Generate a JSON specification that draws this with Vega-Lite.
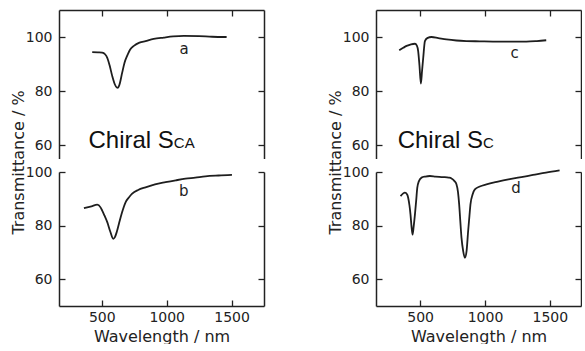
{
  "$schema": "https://vega.github.io/schema/vega-lite/v6.json",
  "padding": {"left": 10, "top": 9, "right": 0, "bottom": 0},
  "autosize": {"type": "pad"},
  "background": "white",
  "config": {
    "view": {"stroke": null},
    "axis": {
      "grid": false,
      "domainColor": "#222",
      "tickColor": "#222",
      "labelColor": "#222",
      "titleColor": "#222",
      "domainWidth": 1.5,
      "tickWidth": 1.3,
      "tickSize": -6,
      "labelFont": "DejaVu Sans",
      "labelFontSize": 14,
      "titleFont": "DejaVu Sans",
      "titleFontSize": 16,
      "titleFontWeight": "normal",
      "format": "d"
    }
  },
  "datasets": {
    "curves": [
      {"panel":"a","wl":426,"t":94.4},{"panel":"a","wl":470,"t":94.3},{"panel":"a","wl":503,"t":94.2},{"panel":"a","wl":525,"t":93.6},{"panel":"a","wl":542,"t":92.3},{"panel":"a","wl":560,"t":89.5},{"panel":"a","wl":580,"t":85.6},{"panel":"a","wl":600,"t":82.5},{"panel":"a","wl":615,"t":81.3},{"panel":"a","wl":624,"t":81.2},{"panel":"a","wl":635,"t":82.2},{"panel":"a","wl":657,"t":86.8},{"panel":"a","wl":675,"t":90.5},{"panel":"a","wl":695,"t":93.0},{"panel":"a","wl":720,"t":95.5},{"panel":"a","wl":747,"t":96.7},{"panel":"a","wl":790,"t":97.9},{"panel":"a","wl":837,"t":98.5},{"panel":"a","wl":900,"t":99.3},{"panel":"a","wl":978,"t":99.8},{"panel":"a","wl":1050,"t":100.2},{"panel":"a","wl":1132,"t":100.4},{"panel":"a","wl":1250,"t":100.3},{"panel":"a","wl":1350,"t":100.1},{"panel":"a","wl":1462,"t":100.0},
      {"panel":"b","wl":362,"t":86.5},{"panel":"b","wl":420,"t":87.2},{"panel":"b","wl":465,"t":87.8},{"panel":"b","wl":490,"t":86.8},{"panel":"b","wl":503,"t":85.6},{"panel":"b","wl":520,"t":83.8},{"panel":"b","wl":542,"t":81.3},{"panel":"b","wl":565,"t":77.8},{"panel":"b","wl":588,"t":75.1},{"panel":"b","wl":600,"t":75.6},{"panel":"b","wl":615,"t":77.6},{"panel":"b","wl":632,"t":80.7},{"panel":"b","wl":655,"t":84.8},{"panel":"b","wl":683,"t":88.7},{"panel":"b","wl":710,"t":90.6},{"panel":"b","wl":734,"t":91.9},{"panel":"b","wl":780,"t":93.3},{"panel":"b","wl":837,"t":94.3},{"panel":"b","wl":910,"t":95.4},{"panel":"b","wl":991,"t":96.2},{"panel":"b","wl":1070,"t":96.9},{"panel":"b","wl":1145,"t":97.5},{"panel":"b","wl":1220,"t":97.9},{"panel":"b","wl":1298,"t":98.4},{"panel":"b","wl":1400,"t":98.7},{"panel":"b","wl":1503,"t":98.9},
      {"panel":"c","wl":339,"t":95.1},{"panel":"c","wl":370,"t":96.0},{"panel":"c","wl":396,"t":96.7},{"panel":"c","wl":430,"t":97.3},{"panel":"c","wl":460,"t":97.5},{"panel":"c","wl":475,"t":96.8},{"panel":"c","wl":485,"t":94.8},{"panel":"c","wl":495,"t":89.5},{"panel":"c","wl":506,"t":82.7},{"panel":"c","wl":515,"t":87.5},{"panel":"c","wl":524,"t":92.3},{"panel":"c","wl":537,"t":98.5},{"panel":"c","wl":555,"t":99.6},{"panel":"c","wl":588,"t":100.0},{"panel":"c","wl":640,"t":99.6},{"panel":"c","wl":703,"t":99.1},{"panel":"c","wl":780,"t":98.7},{"panel":"c","wl":857,"t":98.5},{"panel":"c","wl":960,"t":98.4},{"panel":"c","wl":1062,"t":98.3},{"panel":"c","wl":1200,"t":98.3},{"panel":"c","wl":1319,"t":98.3},{"panel":"c","wl":1400,"t":98.5},{"panel":"c","wl":1472,"t":98.8},
      {"panel":"d","wl":349,"t":91.0},{"panel":"d","wl":383,"t":92.3},{"panel":"d","wl":400,"t":91.6},{"panel":"d","wl":408,"t":90.4},{"panel":"d","wl":418,"t":87.5},{"panel":"d","wl":426,"t":84.1},{"panel":"d","wl":434,"t":79.5},{"panel":"d","wl":442,"t":76.6},{"panel":"d","wl":450,"t":79.5},{"panel":"d","wl":460,"t":84.1},{"panel":"d","wl":470,"t":89.5},{"panel":"d","wl":478,"t":94.1},{"panel":"d","wl":490,"t":96.5},{"panel":"d","wl":511,"t":97.9},{"panel":"d","wl":540,"t":98.3},{"panel":"d","wl":575,"t":98.5},{"panel":"d","wl":620,"t":98.3},{"panel":"d","wl":678,"t":98.1},{"panel":"d","wl":720,"t":97.9},{"panel":"d","wl":742,"t":97.6},{"panel":"d","wl":765,"t":96.6},{"panel":"d","wl":780,"t":95.4},{"panel":"d","wl":792,"t":92.5},{"panel":"d","wl":801,"t":87.9},{"panel":"d","wl":810,"t":81.5},{"panel":"d","wl":819,"t":75.4},{"panel":"d","wl":832,"t":70.5},{"panel":"d","wl":845,"t":68.0},{"panel":"d","wl":858,"t":70.5},{"panel":"d","wl":870,"t":77.9},{"panel":"d","wl":880,"t":83.5},{"panel":"d","wl":888,"t":87.9},{"panel":"d","wl":905,"t":91.7},{"panel":"d","wl":922,"t":93.5},{"panel":"d","wl":960,"t":94.6},{"panel":"d","wl":1011,"t":95.4},{"panel":"d","wl":1100,"t":96.4},{"panel":"d","wl":1191,"t":97.3},{"panel":"d","wl":1280,"t":98.1},{"panel":"d","wl":1370,"t":98.9},{"panel":"d","wl":1470,"t":99.8},{"panel":"d","wl":1575,"t":100.6}
    ],
    "notes": [
      {"panel":"a","role":"curve","wl":1135,"t":95.7,"text":"a"},
      {"panel":"b","role":"curve","wl":1132,"t":92.8,"text":"b"},
      {"panel":"c","role":"curve","wl":1229,"t":94.2,"text":"c"},
      {"panel":"d","role":"curve","wl":1240,"t":94.2,"text":"d"},
      {"panel":"a","role":"main","wl":1055,"t":59.0,"text":"Chiral S"},
      {"panel":"a","role":"sub","wl":1055,"t":59.0,"text":"CA"},
      {"panel":"c","role":"main","wl":985,"t":59.0,"text":"Chiral S"},
      {"panel":"c","role":"sub","wl":985,"t":59.0,"text":"C"}
    ]
  },
  "spacing": 62,
  "hconcat": [
    {
      "spacing": 13,
      "bounds": "flush",
      "vconcat": [
        {
          "width": 205, "height": 148.5,
          "resolve": {"axis": {"y": "independent"}},
          "layer": [
            {
              "data": {"name": "curves"},
              "transform": [{"filter": "datum.panel === 'a'"}],
              "mark": {"type": "line", "color": "#1e1e1e", "strokeWidth": 1.8, "interpolate": "monotone"},
              "encoding": {
                "x": {"field": "wl", "type": "quantitative", "scale": {"domain": [170, 1750], "nice": false, "zero": false},
                      "axis": {"orient": "top", "values": [500, 1000, 1500], "labels": false, "title": null}},
                "y": {"field": "t", "type": "quantitative", "scale": {"domain": [55, 110], "nice": false, "zero": false},
                      "axis": {"orient": "left", "values": [60, 80, 100], "labelPadding": 13, "title": "Transmittance / %", "titleX": -41, "titleY": 152, "titleAngle": -90, "titleBaseline": "middle", "titleAlign": "center"}}
              }
            },
            {
              "data": {"name": "notes"},
              "transform": [{"filter": "datum.panel === 'a' && datum.role === 'curve'"}],
              "mark": {"type": "text", "font": "DejaVu Sans", "fontSize": 15, "color": "#1e1e1e", "baseline": "middle", "align": "center"},
              "encoding": {
                "x": {"field": "wl", "type": "quantitative"},
                "y": {"field": "t", "type": "quantitative", "axis": {"orient": "right", "values": [60, 80, 100], "labels": false, "title": null}},
                "text": {"field": "text"}
              }
            },
            {
              "data": {"name": "notes"},
              "transform": [{"filter": "datum.panel === 'a' && datum.role === 'main'"}],
              "mark": {"type": "text", "font": "Liberation Sans", "fontSize": 24, "color": "#111", "baseline": "alphabetic", "align": "right"},
              "encoding": {
                "x": {"field": "wl", "type": "quantitative"},
                "y": {"field": "t", "type": "quantitative", "axis": null},
                "text": {"field": "text"}
              }
            },
            {
              "data": {"name": "notes"},
              "transform": [{"filter": "datum.panel === 'a' && datum.role === 'sub'"}],
              "mark": {"type": "text", "font": "Liberation Sans", "fontSize": 15, "color": "#111", "baseline": "alphabetic", "align": "left"},
              "encoding": {
                "x": {"field": "wl", "type": "quantitative"},
                "y": {"field": "t", "type": "quantitative", "axis": null},
                "text": {"field": "text"}
              }
            }
          ]
        },
        {
          "width": 205, "height": 134,
          "resolve": {"axis": {"y": "independent"}},
          "layer": [
            {
              "data": {"name": "curves"},
              "transform": [{"filter": "datum.panel === 'b'"}],
              "mark": {"type": "line", "color": "#1e1e1e", "strokeWidth": 1.8, "interpolate": "monotone"},
              "encoding": {
                "x": {"field": "wl", "type": "quantitative", "scale": {"domain": [170, 1750], "nice": false, "zero": false},
                      "axis": {"orient": "bottom", "values": [500, 1000, 1500], "labelPadding": 10, "title": "Wavelength / nm", "titlePadding": 4}},
                "y": {"field": "t", "type": "quantitative", "scale": {"domain": [50, 100], "nice": false, "zero": false},
                      "axis": {"orient": "left", "values": [60, 80, 100], "labelPadding": 13, "title": null}}
              }
            },
            {
              "data": {"name": "notes"},
              "transform": [{"filter": "datum.panel === 'b' && datum.role === 'curve'"}],
              "mark": {"type": "text", "font": "DejaVu Sans", "fontSize": 15, "color": "#1e1e1e", "baseline": "middle", "align": "center"},
              "encoding": {
                "x": {"field": "wl", "type": "quantitative"},
                "y": {"field": "t", "type": "quantitative", "axis": {"orient": "right", "values": [60, 80, 100], "labels": false, "title": null}},
                "text": {"field": "text"}
              }
            }
          ]
        }
      ]
    },
    {
      "spacing": 13,
      "bounds": "flush",
      "vconcat": [
        {
          "width": 205, "height": 148.5,
          "resolve": {"axis": {"y": "independent"}},
          "layer": [
            {
              "data": {"name": "curves"},
              "transform": [{"filter": "datum.panel === 'c'"}],
              "mark": {"type": "line", "color": "#1e1e1e", "strokeWidth": 1.8, "interpolate": "monotone"},
              "encoding": {
                "x": {"field": "wl", "type": "quantitative", "scale": {"domain": [160, 1740], "nice": false, "zero": false},
                      "axis": {"orient": "top", "values": [500, 1000, 1500], "labels": false, "title": null}},
                "y": {"field": "t", "type": "quantitative", "scale": {"domain": [55, 110], "nice": false, "zero": false},
                      "axis": {"orient": "left", "values": [60, 80, 100], "labelPadding": 13, "title": "Transmittance / %", "titleX": -41, "titleY": 152, "titleAngle": -90, "titleBaseline": "middle", "titleAlign": "center"}}
              }
            },
            {
              "data": {"name": "notes"},
              "transform": [{"filter": "datum.panel === 'c' && datum.role === 'curve'"}],
              "mark": {"type": "text", "font": "DejaVu Sans", "fontSize": 15, "color": "#1e1e1e", "baseline": "middle", "align": "center"},
              "encoding": {
                "x": {"field": "wl", "type": "quantitative"},
                "y": {"field": "t", "type": "quantitative", "axis": {"orient": "right", "values": [60, 80, 100], "labels": false, "title": null}},
                "text": {"field": "text"}
              }
            },
            {
              "data": {"name": "notes"},
              "transform": [{"filter": "datum.panel === 'c' && datum.role === 'main'"}],
              "mark": {"type": "text", "font": "Liberation Sans", "fontSize": 24, "color": "#111", "baseline": "alphabetic", "align": "right"},
              "encoding": {
                "x": {"field": "wl", "type": "quantitative"},
                "y": {"field": "t", "type": "quantitative", "axis": null},
                "text": {"field": "text"}
              }
            },
            {
              "data": {"name": "notes"},
              "transform": [{"filter": "datum.panel === 'c' && datum.role === 'sub'"}],
              "mark": {"type": "text", "font": "Liberation Sans", "fontSize": 15, "color": "#111", "baseline": "alphabetic", "align": "left"},
              "encoding": {
                "x": {"field": "wl", "type": "quantitative"},
                "y": {"field": "t", "type": "quantitative", "axis": null},
                "text": {"field": "text"}
              }
            }
          ]
        },
        {
          "width": 205, "height": 134,
          "resolve": {"axis": {"y": "independent"}},
          "layer": [
            {
              "data": {"name": "curves"},
              "transform": [{"filter": "datum.panel === 'd'"}],
              "mark": {"type": "line", "color": "#1e1e1e", "strokeWidth": 1.8, "interpolate": "monotone"},
              "encoding": {
                "x": {"field": "wl", "type": "quantitative", "scale": {"domain": [160, 1740], "nice": false, "zero": false},
                      "axis": {"orient": "bottom", "values": [500, 1000, 1500], "labelPadding": 10, "title": "Wavelength / nm", "titlePadding": 4}},
                "y": {"field": "t", "type": "quantitative", "scale": {"domain": [50, 100], "nice": false, "zero": false},
                      "axis": {"orient": "left", "values": [60, 80, 100], "labelPadding": 13, "title": null}}
              }
            },
            {
              "data": {"name": "notes"},
              "transform": [{"filter": "datum.panel === 'd' && datum.role === 'curve'"}],
              "mark": {"type": "text", "font": "DejaVu Sans", "fontSize": 15, "color": "#1e1e1e", "baseline": "middle", "align": "center"},
              "encoding": {
                "x": {"field": "wl", "type": "quantitative"},
                "y": {"field": "t", "type": "quantitative", "axis": {"orient": "right", "values": [60, 80, 100], "labels": false, "title": null}},
                "text": {"field": "text"}
              }
            }
          ]
        }
      ]
    }
  ]
}
